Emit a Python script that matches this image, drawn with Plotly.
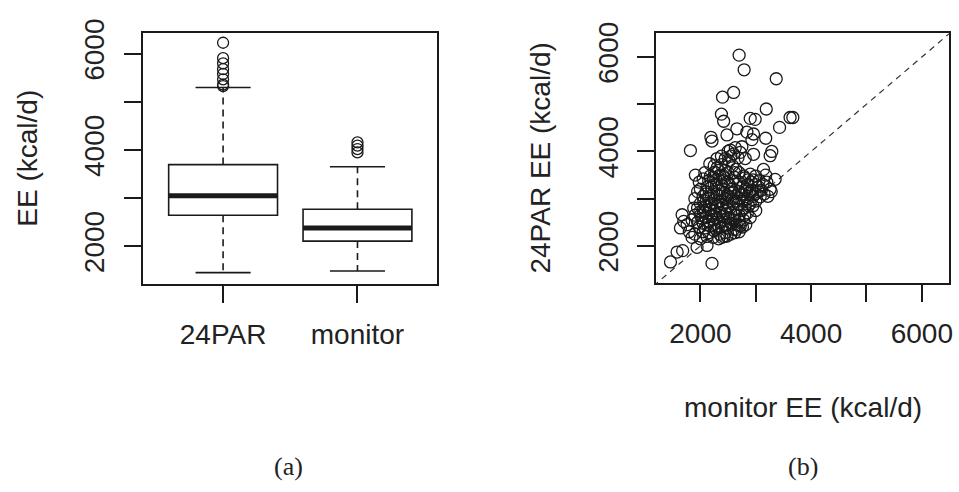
import plotly.graph_objects as go

# ---------------- data ----------------
categories = ["24PAR", "monitor"]
box_q1 = [2642, 2106]
box_median = [3050, 2380]
box_q3 = [3697, 2768]
whisker_low = [1450, 1485]
whisker_high = [5300, 3652]
outliers_24par = [6230, 5910, 5800, 5680, 5580, 5470, 5360, 5330]
outliers_monitor = [4160, 4090, 4020, 3950]

# scatter: monitor EE (x) vs 24PAR EE (y)
monitor_ee = [
    2700, 2790, 3370, 2600, 2400, 3190, 2380, 2420, 2900, 2990, 3620, 3670, 3430, 2660,
    2190, 2210, 2480, 2840, 2960, 3180, 2930, 1820, 2540, 2630, 2720, 3290, 3260, 2810,
    2960, 2680, 2600, 2750,
    2170, 2300, 2380, 2450, 2520, 2260, 2350, 2420, 2500, 2580, 2640, 3140, 3000, 2900,
    2800, 1910, 2050, 2150, 2250, 3350, 3260, 3080, 3130, 3200, 3050, 2950, 2700, 2620,
    2850, 2760,
    2000, 2100, 2200, 2300, 2400, 2050, 2150, 2250, 2350, 2450, 2550, 2650, 2700, 2000,
    2100, 2200, 2300, 2400, 2500, 2600, 2750, 2850, 2900, 1950, 2050, 2150, 2250, 2350,
    2450, 2550, 2650, 2800, 2950, 1900, 2000, 2100, 2200, 2300, 2400, 2500, 2600, 2700,
    2850, 3000, 1850, 1950, 2050, 2150, 2250, 2350, 2450, 2550, 2650, 2780, 2900, 1980,
    2080, 2180, 2280, 2380, 2480, 2600, 2720, 2050, 2150, 2250, 2350, 2450, 2550, 2700,
    2820, 2120, 2230, 2330, 2430, 2100, 2200, 2320, 2180, 2280, 2380, 2420, 2230, 2130,
    2330, 2030, 2270, 2370, 2470, 2520, 2580, 2480, 2380, 2280, 2180, 2430, 2530, 2630,
    2680, 2750, 2620, 2540, 2460, 2090, 1990, 2160, 2060, 2240, 2330, 2580, 2730, 2810,
    2880, 2930, 2990, 3050, 3100,
    2700, 2780, 2860, 2920, 3000, 3060, 2820, 2900, 2760, 2700, 2640, 2560, 2480, 2400,
    2330, 2250, 2300, 2380, 2450, 2550, 2500, 2230, 2130, 2080, 1980, 1950, 1900, 1880,
    3150, 3220, 3280, 3000, 2950, 2870, 2800, 2700, 3180, 2400, 2290, 2620, 2620, 2760,
    1670, 1700, 1640, 1850, 1940, 2120, 1460, 1580, 1680, 2210, 2390, 2480, 2700, 2650,
    1800, 1760, 1900, 2000,
]
par_ee = [
    6040, 5730, 5540, 5250, 5150, 4900, 4790, 4640, 4700, 4680, 4720, 4720, 4510, 4480,
    4300, 4220, 4350, 4410, 4370, 4280, 4250, 4020, 4030, 4080, 3980, 4000, 3910, 3850,
    3940, 3870, 3950, 4100,
    3740, 3650, 3720, 3600, 3800, 3560, 3500, 3450, 3550, 3700, 3620, 3620, 3480, 3520,
    3440, 3500, 3420, 3380, 3300, 3410, 3200, 3040, 3300, 3350, 3250, 3400, 3350, 3450,
    3300, 3250,
    3200, 3150, 3250, 3100, 3200, 3050, 3000, 2980, 3050, 3000, 3120, 3050, 3150, 2900,
    2850, 2900, 2850, 2880, 2820, 2900, 2950, 3000, 2900, 2800, 2750, 2700, 2750, 2700,
    2750, 2700, 2780, 2800, 2850, 2650, 2650, 2600, 2620, 2580, 2620, 2600, 2550, 2650,
    2700, 2750, 2550, 2500, 2480, 2520, 2450, 2500, 2450, 2480, 2450, 2550, 2600, 2400,
    2380, 2420, 2350, 2400, 2380, 2350, 2420, 2300, 2280, 2320, 2250, 2280, 2250, 2300,
    2450, 2200, 2180, 2150, 2200, 3100, 3050, 2950, 2780, 2680, 2800, 2550, 2560, 2450,
    2420, 2580, 2880, 2950, 2920, 2850, 3000, 3080, 3300, 3400, 3480, 3380, 3280, 3180,
    2880, 2750, 2650, 2580, 2680, 2720, 2720, 2870, 2960, 3130, 3180, 3380, 3080, 3150,
    3120, 3180, 3100, 3150, 3180,
    3550, 3480, 3400, 3350, 3300, 3380, 3200, 3150, 3100, 3000, 2950, 3200, 3350, 3500,
    3600, 3700, 3850, 3900, 3850, 3900, 4000, 3450, 3250, 3550, 3350, 3150, 3000, 2800,
    3100, 3050, 3150, 2950, 3050, 2850, 2650, 2550, 3500, 3100, 3300, 3550, 2280, 2400,
    2660, 2520, 2380, 2180, 1970, 2010, 1660, 1870, 1900, 1630, 2180, 2210, 2450, 2350,
    2300, 2450, 2250, 2150,
]

box_width = 0.81
cap_width = 0.41
diag_line = [1000, 7000]

INK = "#1a1a1a"
FONT = "Liberation Sans, Arial, sans-serif"

fig = go.Figure()

# ---------------- (a) boxplot ----------------
positions = list(range(len(categories)))
fig.add_trace(go.Box(
    x=positions, q1=box_q1, median=box_median, q3=box_q3,
    lowerfence=box_q1, upperfence=box_q3,
    width=box_width, fillcolor="rgba(0,0,0,0)",
    line=dict(color=INK, width=1.6), boxpoints=False,
    xaxis="x", yaxis="y", showlegend=False, hoverinfo="skip",
))
for i, p in enumerate(positions):
    # dashed whiskers
    fig.add_trace(go.Scatter(
        x=[p, p, None, p, p], y=[box_q3[i], whisker_high[i], None, box_q1[i], whisker_low[i]],
        mode="lines", line=dict(color=INK, width=1.6, dash="7px,5px"),
        xaxis="x", yaxis="y", showlegend=False, hoverinfo="skip"))
    # staples
    fig.add_trace(go.Scatter(
        x=[p - cap_width / 2, p + cap_width / 2, None, p - cap_width / 2, p + cap_width / 2],
        y=[whisker_high[i], whisker_high[i], None, whisker_low[i], whisker_low[i]],
        mode="lines", line=dict(color=INK, width=1.6),
        xaxis="x", yaxis="y", showlegend=False, hoverinfo="skip"))
    # thick median
    fig.add_trace(go.Scatter(
        x=[p - box_width / 2, p + box_width / 2], y=[box_median[i], box_median[i]],
        mode="lines", line=dict(color=INK, width=5),
        xaxis="x", yaxis="y", showlegend=False, hoverinfo="skip"))

fig.add_trace(go.Scatter(
    x=[positions[0]] * len(outliers_24par) + [positions[1]] * len(outliers_monitor),
    y=outliers_24par + outliers_monitor,
    mode="markers", marker=dict(symbol="circle-open", size=11, color=INK, line=dict(width=1.3)),
    xaxis="x", yaxis="y", showlegend=False, hoverinfo="skip"))

# ---------------- (b) scatter ----------------
fig.add_trace(go.Scatter(
    x=diag_line, y=diag_line, mode="lines",
    line=dict(color="#333333", width=1.2, dash="6px,5px"),
    xaxis="x2", yaxis="y2", showlegend=False, hoverinfo="skip"))
fig.add_trace(go.Scatter(
    x=monitor_ee, y=par_ee, mode="markers",
    marker=dict(symbol="circle-open", size=12, color=INK, line=dict(width=1.3)),
    xaxis="x2", yaxis="y2", showlegend=False, hoverinfo="skip"))

W, H = 959, 492
axis_common = dict(
    showline=True, mirror=True, linecolor=INK, linewidth=1.8,
    ticks="outside", ticklen=17, tickwidth=1.6, tickcolor=INK,
    showgrid=False, zeroline=False,
    tickfont=dict(family=FONT, size=28, color="#222222"),
)

fig.update_layout(
    width=W, height=H, margin=dict(l=0, r=0, t=0, b=0),
    paper_bgcolor="white", plot_bgcolor="white",
    xaxis=dict(domain=[144 / W, 439 / W], range=[-0.593, 1.593],
               tickvals=positions, ticktext=categories, anchor="y",
               ticklabelstandoff=7, **axis_common),
    yaxis=dict(domain=[1 - 278 / H, 1 - 20 / H], range=[1212, 6424],
               tickvals=[2000, 3000, 4000, 5000, 6000],
               ticktext=["2000", "", "4000", "", "6000"], tickangle=-90,
               anchor="x", ticklabelstandoff=9, **axis_common),
    xaxis2=dict(domain=[659 / W, 953 / W], range=[1203, 6491],
                tickvals=[2000, 3000, 4000, 5000, 6000],
                ticktext=["2000", "", "4000", "", "6000"], anchor="y2",
                ticklabelstandoff=7, **axis_common),
    yaxis2=dict(domain=[1 - 277 / H, 1 - 20 / H], range=[1212, 6500],
                tickvals=[2000, 3000, 4000, 5000, 6000],
                ticktext=["2000", "", "4000", "", "6000"], tickangle=-90,
                anchor="x2", ticklabelstandoff=8, **axis_common),
)

title_font = dict(family=FONT, size=28, color="#222222")
fig.add_annotation(text="EE (kcal/d)", x=28 / W, y=1 - 148 / H, xref="paper", yref="paper",
                   textangle=-90, showarrow=False, font=title_font, xanchor="center", yanchor="middle")
fig.add_annotation(text="24PAR EE (kcal/d)", x=543 / W, y=1 - 148 / H, xref="paper", yref="paper",
                   textangle=-90, showarrow=False, font=title_font, xanchor="center", yanchor="middle")
fig.add_annotation(text="monitor EE (kcal/d)", x=806 / W, y=1 - 405 / H, xref="paper", yref="paper",
                   showarrow=False, font=title_font, xanchor="center", yanchor="middle")

cap_font = dict(family="Liberation Serif, serif", size=26, color="#222222")
fig.add_annotation(text="(a)", x=290 / W, y=1 - 466 / H, xref="paper", yref="paper",
                   showarrow=False, font=cap_font, xanchor="center", yanchor="middle")
fig.add_annotation(text="(b)", x=806 / W, y=1 - 466 / H, xref="paper", yref="paper",
                   showarrow=False, font=cap_font, xanchor="center", yanchor="middle")

fig.write_html("out.html")
